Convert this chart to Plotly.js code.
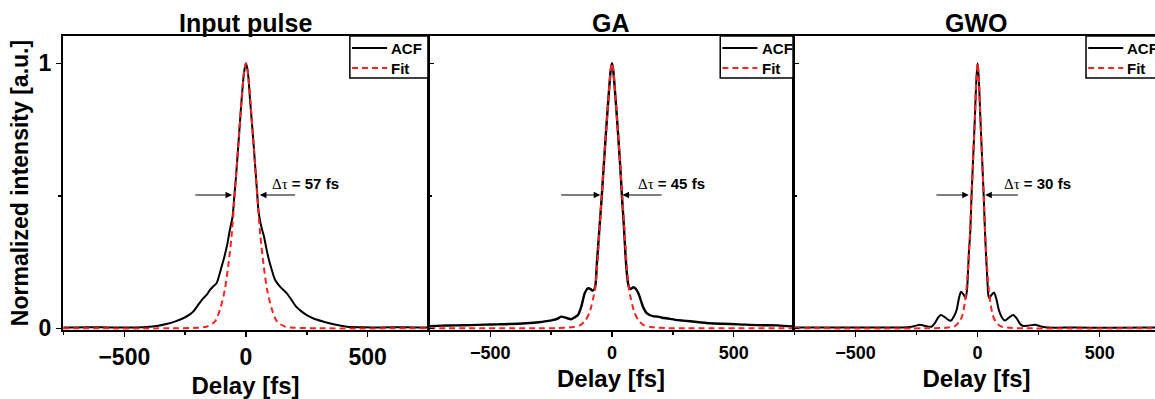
<!DOCTYPE html>
<html>
<head>
<meta charset="utf-8">
<script src="https://cdn.plot.ly/plotly-3.0.1.min.js"></script>
<style>
html, body { margin: 0; padding: 0; overflow: hidden; background: #fff; }
#chart { width: 1160px; height: 399px; }
</style>
</head>
<body>
<div id="chart"></div>
<script>
// ---------------- data ----------------
const panelTitles = ['Input pulse', 'GA', 'GWO'];
const pulseWidths = ['57 fs', '45 fs', '30 fs'];
const legendNames = ['ACF', 'Fit'];
const xTickValues = [-500, 0, 500];

// Input pulse
const inputAcfDelay = [-750,-650,-550,-480,-409,-360,-327,-290,-258,-235,-217,-195,-176,-160,-148,-135,-121,-110,-100,-90,-82,-75,-69,-62,-55,-48,-41,-30,-18,-8,0,8,17,30,41,47,51,60,67,74,85,94,102,111,120,140,168,185,206,228,250,280,319,360,415,480,550,650,748];
const inputAcfValue = [0.003,0.004,0.003,0.003,0.005,0.01,0.016,0.026,0.038,0.05,0.063,0.09,0.113,0.128,0.145,0.158,0.17,0.2,0.233,0.265,0.296,0.325,0.358,0.39,0.421,0.497,0.572,0.71,0.862,0.965,1,0.965,0.86,0.71,0.572,0.497,0.447,0.396,0.37,0.346,0.296,0.26,0.233,0.205,0.182,0.157,0.132,0.11,0.082,0.064,0.05,0.036,0.025,0.015,0.006,0.004,0.003,0.004,0.003];
const inputFitDelay = [-752,-300,-200,-162,-128,-107,-87,-73,-59,-48,-41,-30,-18,-8,0,8,18,30,41,48,59,73,87,107,128,162,200,300,748];
const inputFitValue = [0,0,0.002,0.006,0.025,0.07,0.145,0.235,0.35,0.48,0.57,0.71,0.86,0.965,1,0.965,0.86,0.71,0.57,0.48,0.35,0.235,0.145,0.07,0.025,0.006,0.002,0,0];

// GA
const gaAcfDelay = [-752,-700,-640,-580,-520,-470,-420,-352,-300,-270,-245,-225,-208,-190,-167,-152,-140,-126,-112,-99,-88,-81,-72,-67,-62,-56,-51,-42,-34,-23,-12,-5,0,5,12,23,34,41,49,56,62,68,76,88,97,107,117,127,140,155,172,189,205,223,260,292,350,401,450,520,600,680,744];
const gaAcfValue = [0.008,0.01,0.011,0.012,0.014,0.015,0.016,0.019,0.023,0.027,0.031,0.036,0.044,0.04,0.034,0.042,0.05,0.082,0.132,0.151,0.148,0.142,0.148,0.17,0.245,0.32,0.384,0.497,0.61,0.761,0.9,0.975,1,0.975,0.9,0.761,0.61,0.497,0.384,0.27,0.2,0.16,0.148,0.155,0.15,0.135,0.11,0.082,0.06,0.05,0.045,0.044,0.04,0.038,0.032,0.029,0.024,0.019,0.017,0.015,0.012,0.011,0.007];
const gaFitDelay = [-752,-300,-220,-160,-130,-108,-92,-85,-78,-70,-62,-56,-50,-42,-34,-23,-12,-5,0,5,12,23,34,42,50,56,62,70,78,85,92,108,130,160,220,300,744];
const gaFitValue = [0,0,0.001,0.005,0.012,0.031,0.06,0.082,0.11,0.145,0.22,0.3,0.39,0.5,0.62,0.76,0.9,0.975,1,0.975,0.9,0.76,0.62,0.5,0.39,0.3,0.22,0.145,0.11,0.082,0.06,0.031,0.012,0.005,0.001,0,0];

// GWO
const gwoAcfDelay = [-752,-500,-350,-290,-260,-236,-215,-189,-175,-162,-150,-135,-120,-109,-97,-86,-76,-68,-58,-49,-43,-39,-35,-31,-25,-18,-11,-5,0,5,11,18,25,31,36,40,44,48,56,67,77,87,100,112,128,146,162,175,187,205,235,260,290,400,550,743];
const gwoAcfValue = [0.003,0.003,0.003,0.004,0.008,0.013,0.009,0.006,0.02,0.04,0.05,0.042,0.032,0.029,0.045,0.069,0.115,0.138,0.128,0.113,0.15,0.22,0.3,0.346,0.497,0.648,0.8,0.94,1,0.94,0.8,0.648,0.497,0.346,0.25,0.18,0.125,0.113,0.125,0.135,0.11,0.069,0.04,0.029,0.04,0.05,0.035,0.015,0.009,0.01,0.013,0.007,0.003,0.003,0.002,0.003];
const gwoFitDelay = [-752,-200,-130,-93,-72,-62,-52,-45,-38,-31,-25,-18,-11,-5,0,5,11,18,25,31,38,45,52,62,72,93,130,200,743];
const gwoFitValue = [0,0,0.002,0.008,0.028,0.05,0.098,0.155,0.24,0.36,0.497,0.648,0.8,0.94,1,0.94,0.8,0.648,0.497,0.36,0.24,0.155,0.098,0.05,0.028,0.008,0.002,0,0];

// FWHM arrows: [left head, left tail, right head, right tail] in fs
const inputArrows = [-57, -214, 57, 208];
const gaArrows = [-48, -215, 43, 210];
const gwoArrows = [-36, -175, 31, 171];

// ---------------- build ----------------
const FONT = 'Liberation Sans, Arial, sans-serif';
const BLACK = '#000000';
const RED = '#ff2020';
const DASH = '6px,4px';

const acfSets = [[inputAcfDelay, inputAcfValue], [gaAcfDelay, gaAcfValue], [gwoAcfDelay, gwoAcfValue]];
const fitSets = [[inputFitDelay, inputFitValue], [gaFitDelay, gaFitValue], [gwoFitDelay, gwoFitValue]];
const arrowSets = [inputArrows, gaArrows, gwoArrows];
const axSuffix = ['', '2', '3'];
const domains = [[0, 0.3330], [0.3339, 0.6661], [0.6670, 1.0]];
const xRanges = [[-752, 748], [-752, 744], [-752, 743]];
const yRange = [-0.0064, 1.103];
const legendLeft = [0.786, 0.8, 0.8];

const traces = [];
for (let i = 0; i < 3; i++) {
  const xa = 'x' + axSuffix[i], ya = 'y' + axSuffix[i];
  traces.push({
    x: acfSets[i][0], y: acfSets[i][1], xaxis: xa, yaxis: ya,
    type: 'scatter', mode: 'lines', name: legendNames[0], showlegend: false,
    line: {color: BLACK, width: i === 1 ? 2.4 : 2, shape: 'spline', smoothing: 0.7}
  });
  traces.push({
    x: fitSets[i][0], y: fitSets[i][1], xaxis: xa, yaxis: ya,
    type: 'scatter', mode: 'lines', name: legendNames[1], showlegend: false,
    line: {color: RED, width: 2, dash: DASH, shape: 'spline', smoothing: 0.7}
  });
}

const layout = {
  width: 1160, height: 399,
  margin: {l: 63, r: 1, t: 36, b: 69},
  paper_bgcolor: '#fff', plot_bgcolor: '#fff',
  font: {family: FONT, color: BLACK},
  showlegend: false,
  annotations: [],
  shapes: []
};

for (let i = 0; i < 3; i++) {
  const s = axSuffix[i];
  layout['xaxis' + s] = {
    domain: domains[i], range: xRanges[i], anchor: 'y' + s,
    showgrid: false, zeroline: false,
    showline: true, linecolor: BLACK, linewidth: 2, mirror: true,
    ticks: 'outside', ticklen: 5, tickwidth: 1.5, tickcolor: BLACK,
    tickmode: 'array', tickvals: xTickValues,
    minor: {dtick: 250, tick0: 0, ticks: 'outside', ticklen: 3, tickwidth: 1.5, tickcolor: BLACK, showgrid: false},
    tickfont: {family: FONT, size: i === 0 ? 23 : 18, weight: 'bold', color: BLACK},
    title: {text: 'Delay [fs]', font: {family: FONT, size: 24, weight: 'bold', color: BLACK}, standoff: 9},
    fixedrange: true
  };
  layout['yaxis' + s] = {
    domain: [0, 1], range: yRange, anchor: 'x' + s,
    showgrid: false, zeroline: false,
    showline: true, linecolor: BLACK, linewidth: 2, mirror: true,
    ticks: i === 0 ? 'outside' : 'inside', ticklen: 5, tickwidth: 1.5, tickcolor: BLACK,
    tickmode: 'array', tickvals: [0, 1],
    minor: {tickvals: [0.5], ticks: i === 0 ? 'outside' : 'inside', ticklen: 3, tickwidth: 1.5, tickcolor: BLACK, showgrid: false},
    showticklabels: i === 0,
    tickfont: {family: FONT, size: 23, weight: 'bold', color: BLACK},
    fixedrange: true
  };
  // panel title
  layout.annotations.push({
    xref: 'paper', yref: 'paper', x: (domains[i][0] + domains[i][1]) / 2, y: 1.043,
    xanchor: 'center', yanchor: 'middle', showarrow: false,
    text: panelTitles[i], font: {family: FONT, size: 25, weight: 'bold', color: BLACK}
  });
  // FWHM label
  layout.annotations.push({
    xref: 'x' + s, yref: 'y' + s, x: 99, y: 0.548, xanchor: 'left', yanchor: 'middle',
    showarrow: false,
    text: "<span style='font-family:Liberation Serif, Times New Roman, serif;font-weight:normal'>Δτ</span> = " + pulseWidths[i],
    font: {family: FONT, size: 15, weight: 'bold', color: BLACK}
  });
  const a = arrowSets[i];
  [[a[0], a[1]], [a[2], a[3]]].forEach(function (p) {
    layout.annotations.push({
      xref: 'x' + s, yref: 'y' + s, x: p[0], y: 0.503,
      axref: 'x' + s, ayref: 'y' + s, ax: p[1], ay: 0.503,
      text: '', showarrow: true, arrowhead: 2, arrowsize: 1.1, arrowwidth: 1.2,
      arrowcolor: BLACK, standoff: 0, startstandoff: 0
    });
  });
  // legend box (drawn per panel)
  const L = legendLeft[i];
  const xd = 'x' + s + ' domain', yd = 'y' + s + ' domain';
  layout.shapes.push({
    type: 'rect', xref: xd, yref: yd, x0: L, x1: 1, y0: 0.857, y1: 1,
    line: {color: BLACK, width: 1.5}, fillcolor: '#fff', layer: 'above'
  });
  layout.shapes.push({
    type: 'line', xref: xd, yref: yd, x0: L + 0.006, x1: L + 0.102, y0: 0.959, y1: 0.959,
    line: {color: BLACK, width: 2}, layer: 'above'
  });
  layout.shapes.push({
    type: 'line', xref: xd, yref: yd, x0: L + 0.006, x1: L + 0.102, y0: 0.891, y1: 0.891,
    line: {color: RED, width: 2, dash: DASH}, layer: 'above'
  });
  [[legendNames[0], 0.959], [legendNames[1], 0.891]].forEach(function (t) {
    layout.annotations.push({
      xref: xd, yref: yd, x: L + 0.108, y: t[1], xanchor: 'left', yanchor: 'middle',
      showarrow: false, text: t[0],
      font: {family: FONT, size: 15, weight: 'bold', color: BLACK}
    });
  });
}
layout.yaxis.title = {text: 'Normalized intensity [a.u.]', font: {family: FONT, size: 23, weight: 'bold', color: BLACK}, standoff: 4};

Plotly.newPlot('chart', traces, layout, {displayModeBar: false, staticPlot: true});
</script>
</body>
</html>
